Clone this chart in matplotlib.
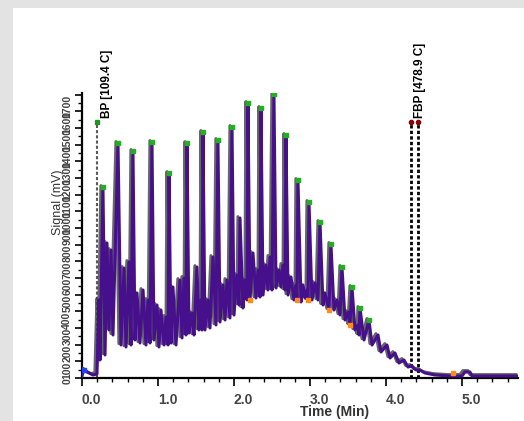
import numpy as np
import matplotlib
matplotlib.use("Agg")
import matplotlib.pyplot as plt
import matplotlib.patheffects as pe
from matplotlib.patches import Rectangle

plt.rcParams['font.family'] = ['Liberation Sans', 'DejaVu Sans']

# chromatogram trace (time in min, signal in mV)
trace_t = [0.000, 0.026, 0.066, 0.145, 0.197, 0.224, 0.237, 0.276, 0.303, 0.329,
           0.355, 0.382, 0.408, 0.474, 0.513, 0.553, 0.579, 0.618, 0.645, 0.671,
           0.697, 0.724, 0.763, 0.803, 0.842, 0.868, 0.895, 0.921, 0.947, 0.987,
           1.013, 1.039, 1.079, 1.105, 1.132, 1.145, 1.171, 1.197, 1.237, 1.289,
           1.316, 1.342, 1.368, 1.382, 1.408, 1.447, 1.474, 1.513, 1.539, 1.566,
           1.579, 1.592, 1.618, 1.658, 1.684, 1.724, 1.763, 1.789, 1.816, 1.855,
           1.882, 1.908, 1.947, 1.974, 2.000, 2.039, 2.066, 2.079, 2.118, 2.145,
           2.171, 2.184, 2.211, 2.250, 2.289, 2.316, 2.342, 2.355, 2.382, 2.421,
           2.447, 2.474, 2.500, 2.526, 2.553, 2.592, 2.618, 2.645, 2.671, 2.684,
           2.711, 2.750, 2.789, 2.816, 2.829, 2.842, 2.882, 2.908, 2.934, 2.961,
           2.974, 2.987, 3.026, 3.066, 3.105, 3.132, 3.171, 3.197, 3.250, 3.276,
           3.316, 3.355, 3.395, 3.421, 3.461, 3.500, 3.526, 3.553, 3.592, 3.632,
           3.645, 3.658, 3.711, 3.776, 3.816, 3.895, 3.934, 4.013, 4.053, 4.118,
           4.171, 4.237, 4.289, 4.342, 4.395, 4.447, 4.513, 4.645, 4.842, 5.000,
           5.039, 5.105, 5.132, 5.737]
trace_v = [12, 54, 36, 18, 24, 468, 108, 1146, 138, 810,
           288, 768, 258, 1410, 198, 660, 186, 696, 198, 1362,
           228, 510, 210, 528, 198, 468, 210, 1416, 228, 438,
           186, 408, 198, 366, 198, 1230, 210, 546, 198, 588,
           240, 600, 258, 1410, 270, 390, 258, 666, 288, 468,
           288, 1476, 288, 468, 300, 726, 318, 1428, 336, 558,
           348, 588, 360, 1506, 378, 618, 438, 960, 420, 588,
           468, 1650, 468, 750, 480, 648, 486, 1620, 498, 678,
           528, 726, 528, 1704, 540, 648, 546, 678, 528, 1458,
           498, 606, 468, 558, 468, 1188, 456, 558, 480, 528,
           468, 1056, 468, 570, 468, 936, 438, 510, 408, 804,
           408, 468, 378, 666, 348, 396, 318, 546, 288, 318,
           258, 420, 228, 348, 198, 258, 156, 198, 120, 150,
           90, 108, 66, 72, 48, 48, 30, 18, 12, 12,
           36, 36, 12, 12]

# detected peak apexes
peak_t = [0.276, 0.474, 0.671, 0.921, 1.145, 1.382, 1.592, 1.789, 1.974, 2.184,
          2.355, 2.526, 2.684, 2.842, 2.987, 3.132, 3.276, 3.421, 3.553, 3.658, 3.776]
peak_v = [1146, 1410, 1362, 1416, 1230, 1410, 1476, 1428, 1506, 1650,
          1620, 1704, 1458, 1188, 1056, 936, 804, 666, 546, 420, 348]

# valley marks
valley_t = [2.211, 2.829, 2.974, 3.250, 3.526, 4.880]
valley_v = [468, 468, 468, 408, 318, 30]

# boiling point markers
bp_t = 0.197
bp_v = 1536
bp_label = "BP [109.4 C]"
fbp_t = [4.329, 4.421]
fbp_v = 1536
fbp_label = "FBP [478.9 C]"

y_ticks = list(range(0, 1800, 100))

purple = "#46108c"

fig = plt.figure(figsize=(5.24, 4.21), dpi=100, facecolor="#e3e3e3")
fig.patches.append(Rectangle((13/524, 0), 1, 1 - 8/421, transform=fig.transFigure,
                             facecolor="white", edgecolor="none", zorder=-1))
ax = fig.add_axes([82/524, 43/421, 436/524, 285/421])
ax.set_facecolor("none")

for spine in ["right", "top"]:
    ax.spines[spine].set_color("none")
for spine in ["left", "bottom"]:
    ax.spines[spine].set_linewidth(1.6)

# boiling point lines
ax.plot([bp_t, bp_t], [0, bp_v], color="0.35", lw=1.5, ls=(0, (1.5, 1)), zorder=1)
ax.plot(bp_t, bp_v, "s", color="#1a9a1a", ms=3, zorder=4)
for t in fbp_t:
    ax.plot([t, t], [0, fbp_v], color="black", lw=2, ls=(0, (1.2, 0.8)), zorder=1)
    ax.plot(t, fbp_v, "o", color="#8b0000", ms=3, zorder=4)

ax.plot(trace_t, trace_v, color=purple, lw=2.2, zorder=3,
        path_effects=[pe.SimpleLineShadow(offset=(-1.5, 1), shadow_color="0.25", alpha=0.8),
                      pe.Normal()])
ax.plot(peak_t, peak_v, "s", color="#22b022", ms=2.5, zorder=4)
ax.plot(valley_t, valley_v, "s", color="#ff8c1a", ms=3, zorder=4)
ax.plot(0.03, 48, "s", color="#2040ff", ms=3, zorder=4)

ax.text(bp_t + 0.13, bp_v + 25, bp_label, rotation=90, ha="center", va="bottom",
        fontsize=8.5, fontweight="bold")
ax.text(fbp_t[1] + 0.02, fbp_v + 25, fbp_label, rotation=90, ha="center", va="bottom",
        fontsize=8.5, fontweight="bold")

ax.set_xlim(0, 5.737)
ax.set_ylim(0, 1710)
ax.set_xticks([0, 1, 2, 3, 4, 5])
ax.set_xticklabels(["0.0", "1.0", "2.0", "3.0", "4.0", "5.0"], ha="left")
ax.set_xticks(np.arange(0, 5.8, 0.2), minor=True)
ax.set_yticks(y_ticks)
ax.set_yticks(np.arange(0, 1750, 50), minor=True)
ax.set_yticklabels([str(v) for v in y_ticks], rotation=90, va="top")
ax.tick_params(axis="x", which="major", length=6, width=1.2, labelsize=10, pad=5,
               labelcolor="#444444")
ax.tick_params(axis="x", which="minor", length=3, width=1)
ax.tick_params(axis="y", which="major", length=5, width=1.2, labelsize=7.5, pad=2,
               labelcolor="#444444")
ax.tick_params(axis="y", which="minor", length=3, width=1)
for lab in ax.get_xticklabels() + ax.get_yticklabels():
    lab.set_fontweight("bold")

fig.text(335/524, 1 - 412/421, "Time (Min)", ha="center", va="center",
         fontsize=10, fontweight="bold", color="#333333")
fig.text(58/524, 1 - 202/421, "Signal (mV)", ha="center", va="center",
         rotation=90, fontsize=9, color="#333333")

plt.savefig("out.png", dpi=100, facecolor=fig.get_facecolor())
